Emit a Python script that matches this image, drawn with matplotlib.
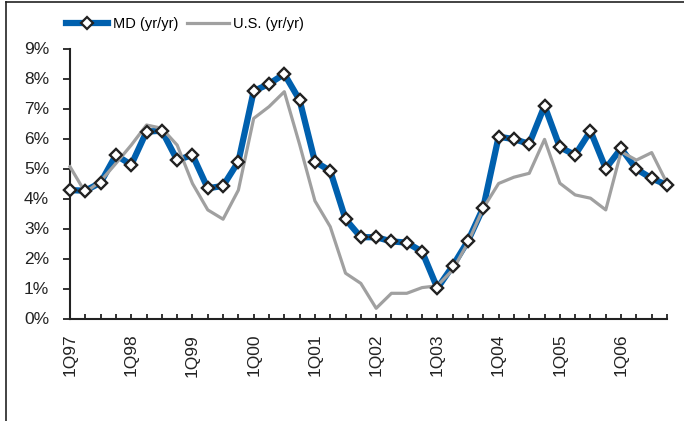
import matplotlib
matplotlib.use("Agg")
import matplotlib.pyplot as plt
from matplotlib.lines import Line2D
from matplotlib.ticker import FuncFormatter

# quarterly yr/yr growth, 1Q97 .. 4Q06
quarters = [f"{q}Q{y:02d}" for y in [97, 98, 99, 0, 1, 2, 3, 4, 5, 6] for q in range(1, 5)]

md_growth = [
    4.28, 4.26, 4.53, 5.45, 5.12, 6.23, 6.26, 5.28,
    5.45, 4.34, 4.42, 5.23, 7.58, 7.82, 8.15, 7.28,
    5.23, 4.92, 3.31, 2.71, 2.71, 2.57, 2.53, 2.23,
    1.01, 1.75, 2.59, 3.70, 6.06, 5.98, 5.82, 7.09,
    5.71, 5.45, 6.25, 5.00, 5.67, 4.98, 4.67, 4.45,
]
us_growth = [
    5.06, 4.20, 4.58, 5.17, 5.78, 6.45, 6.34, 5.78,
    4.50, 3.62, 3.31, 4.28, 6.67, 7.06, 7.56, 5.80,
    3.92, 3.06, 1.51, 1.17, 0.34, 0.84, 0.84, 1.03,
    1.09, 1.62, 2.53, 3.68, 4.50, 4.71, 4.84, 5.97,
    4.51, 4.12, 4.01, 3.62, 5.56, 5.28, 5.53, 4.51,
]

BLUE = "#0060AE"
GREY = "#A0A0A0"
INK = "#222222"

plt.rcParams["font.family"] = ["Liberation Sans", "DejaVu Sans"]

fig = plt.figure(figsize=(6.84, 4.21), dpi=100)
ax = fig.add_axes([70 / 684, 1 - 318.5 / 421, 597 / 684, 270 / 421])

x = list(range(len(quarters)))
ax.plot(x, md_growth, color=BLUE, lw=4.5, marker="D", ms=6.5, mfc="white",
        mec=INK, mew=1.6, zorder=2, label="MD (yr/yr)", clip_on=False)
ax.plot(x, us_growth, color=GREY, lw=2.3, zorder=3, label="U.S. (yr/yr)", clip_on=False)
ax.plot(x, md_growth, ls="none", marker="D", ms=6.5, mfc="white",
        mec=INK, mew=1.6, zorder=4, clip_on=False)

ax.set_xlim(0, len(quarters) - 1)
ax.set_ylim(0, 9)
ax.set_yticks(range(10))
ax.yaxis.set_major_formatter(FuncFormatter(lambda v, _: f"{v:.0f}%"))
ax.set_xticks(x)
ax.set_xticklabels([q if i % 4 == 0 else "" for i, q in enumerate(quarters)], rotation=90)

for side in ["top", "right"]:
    ax.spines[side].set_visible(False)
for side in ["left", "bottom"]:
    ax.spines[side].set_color(INK)
    ax.spines[side].set_linewidth(1.5)

ax.tick_params(axis="y", direction="out", length=5, width=1.3, color=INK,
               pad=10, labelsize=12.5, labelcolor=INK)
ax.tick_params(axis="x", direction="in", length=3.5, width=1.3, color=INK,
               pad=11, labelsize=12.5, labelcolor=INK)

fig.legend(loc="center left", bbox_to_anchor=(66 / 684, 1 - 24 / 421),
           frameon=False, ncol=2, fontsize=10.5, handlelength=2.9,
           handletextpad=0.3, columnspacing=0.6, borderpad=0, borderaxespad=0)

# outer frame edges from the source page
fig.add_artist(Line2D([6 / 684, 6 / 684], [0, 1 - 2 / 421], color=INK, lw=1.2))
fig.add_artist(Line2D([6 / 684, 1], [1 - 2 / 421, 1 - 2 / 421], color=INK, lw=1.2))

fig.savefig("out.png", dpi=100)
